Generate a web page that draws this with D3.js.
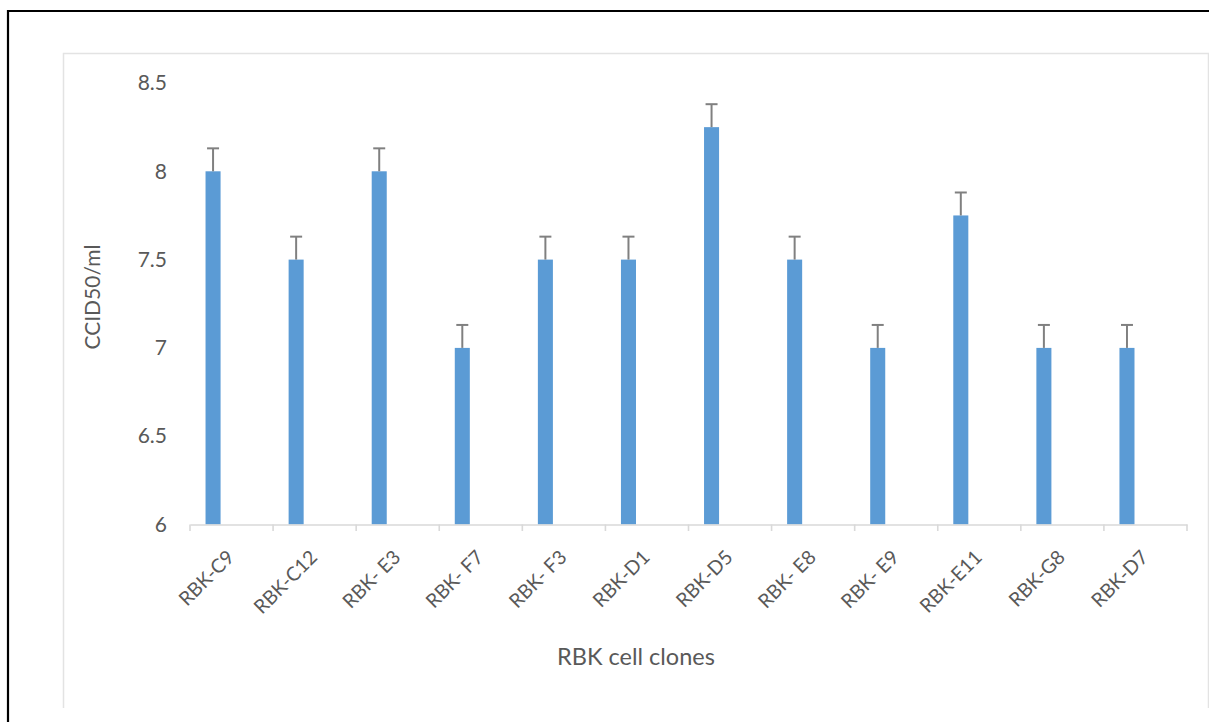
<!DOCTYPE html>
<html>
<head>
<meta charset="utf-8">
<script src="https://cdn.jsdelivr.net/npm/d3@7"></script>
<style>
  html, body { margin: 0; padding: 0; background: #ffffff; }
  svg { display: block; }
  text { font-family: Lato, "Open Sans", sans-serif; fill: #595959; }
</style>
</head>
<body>
<svg id="chart" width="1209" height="722"></svg>
<script>
const categories = ["RBK-C9", "RBK-C12", "RBK- E3", "RBK- F7", "RBK- F3", "RBK-D1", "RBK-D5", "RBK- E8", "RBK- E9", "RBK-E11", "RBK-G8", "RBK-D7"];
const values = [8, 7.5, 8, 7, 7.5, 7.5, 8.25, 7.5, 7, 7.75, 7, 7];
const errors = [0.13, 0.13, 0.13, 0.13, 0.13, 0.13, 0.13, 0.13, 0.13, 0.13, 0.13, 0.13];
const yTicks = [6, 6.5, 7, 7.5, 8, 8.5];
const yTickLabels = ["6", "6.5", "7", "7.5", "8", "8.5"];
const xTitle = "RBK cell clones";
const yTitle = "CCID50/ml";

const svg = d3.select("#chart");
const W = 1209, H = 722;

svg.append("rect").attr("width", W).attr("height", H).attr("fill", "#ffffff");

// outer black frame (top and left visible)
svg.append("path")
  .attr("d", `M8,${H + 5} L8,11 L${W + 5},11`)
  .attr("fill", "none").attr("stroke", "#000").attr("stroke-width", 2.2);

// chart area frame
svg.append("path")
  .attr("d", `M63.5,708 L63.5,53.5 L1208.5,53.5 L1208.5,708`)
  .attr("fill", "none").attr("stroke", "#e3e3e3").attr("stroke-width", 1.5);

const plotLeft = 190, plotRight = 1187, plotTop = 83, plotBottom = 524.5;

const x = d3.scaleBand().domain(categories).range([plotLeft, plotRight]).paddingInner(0).paddingOuter(0);
const y = d3.scaleLinear().domain([6, 8.5]).range([plotBottom, plotTop]);
const bw = x.bandwidth();
const barStart = 0.187, barFrac = 0.181;

// bars
svg.append("g").selectAll("rect").data(values).join("rect")
  .attr("x", (d, i) => x(categories[i]) + bw * barStart)
  .attr("width", bw * barFrac)
  .attr("y", d => y(d))
  .attr("height", d => y(6) - y(d))
  .attr("fill", "#5b9bd5");

// error bars
const eb = svg.append("g").attr("stroke", "#808080").attr("stroke-width", 2).attr("fill", "none");
values.forEach((v, i) => {
  const cx = x(categories[i]) + bw * (barStart + barFrac / 2);
  eb.append("line").attr("x1", cx).attr("x2", cx).attr("y1", y(v)).attr("y2", y(v + errors[i]));
  eb.append("line").attr("x1", cx - 6).attr("x2", cx + 6).attr("y1", y(v + errors[i])).attr("y2", y(v + errors[i]));
});

// x axis
const xAxis = svg.append("g").attr("transform", `translate(0,${plotBottom})`)
  .call(d3.axisBottom(x).tickSize(0).tickPadding(0));
xAxis.select(".domain").attr("stroke", "#d9d9d9").attr("stroke-width", 1.6);
xAxis.selectAll("text")
  .attr("font-size", 19.5)
  .attr("fill", "#595959")
  .attr("text-anchor", "end")
  .attr("dy", 0).attr("y", 0)
  .attr("transform", "translate(4,34) rotate(-45)");

// boundary ticks
const bounds = categories.map(c => x(c)).concat([x.range()[1]]);
svg.append("g").selectAll("line").data(bounds).join("line")
  .attr("x1", d => d).attr("x2", d => d)
  .attr("y1", plotBottom).attr("y2", plotBottom + 6.5)
  .attr("stroke", "#d9d9d9").attr("stroke-width", 1.6);

// y axis
const yAxis = svg.append("g").attr("transform", `translate(${plotLeft},0)`)
  .call(d3.axisLeft(y).tickValues(yTicks).tickFormat((d, i) => yTickLabels[i]).tickSize(0).tickPadding(23));
yAxis.select(".domain").remove();
yAxis.selectAll("text").attr("font-size", 21).attr("fill", "#595959");

// titles
svg.append("text").attr("x", 636).attr("y", 665).attr("text-anchor", "middle")
  .attr("font-size", 23.5).text(xTitle);
svg.append("text").attr("transform", "translate(100,297) rotate(-90)").attr("text-anchor", "middle")
  .attr("font-size", 21).text(yTitle);
</script>
</body>
</html>
